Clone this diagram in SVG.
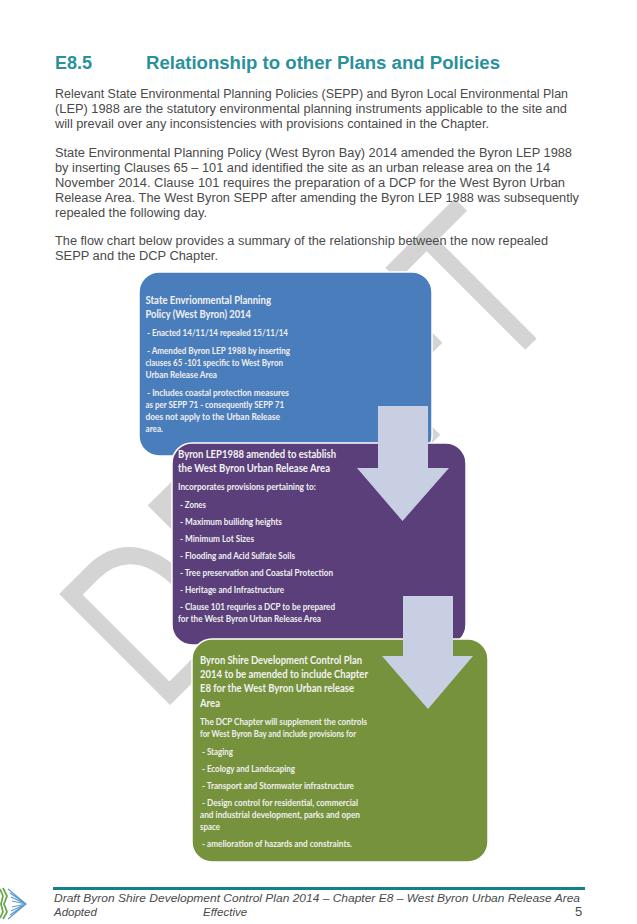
<svg xmlns="http://www.w3.org/2000/svg" width="637" height="924" viewBox="0 0 637 924">
<style>
.b{font-family:"Liberation Sans",Arial,sans-serif;font-size:12px;fill:#4a4a4a}
.h{font-family:"Liberation Sans",Arial,sans-serif;font-size:18px;font-weight:bold;fill:#2a919c}
.f{font-family:"Liberation Sans",Arial,sans-serif;font-size:11.500px;font-style:italic;fill:#4a4a4a}
.t{font-family:Lato,"Open Sans",sans-serif;font-size:11.500px;font-weight:bold;fill:#f2f2f2}
.s{font-family:Lato,"Open Sans",sans-serif;font-size:9.500px;font-weight:bold;fill:#f0f0f0}
.box{stroke:#fff;stroke-width:1.500}
.arrow{fill:#c8cfe2}
.wm{font-family:"Liberation Sans",Arial,sans-serif;font-size:228px;fill:#d4d4d4}
.ray{stroke:#5f9ccb;stroke-width:1.200;fill:none}
.chev{stroke:#6aa84f;stroke-width:1.800;fill:none}
</style>
<rect width="637" height="924" fill="#fff"/>
<text id="watermark" class="wm" transform="translate(160 715) rotate(-45) scale(.76 1)" x="0" y="0">DRAFT</text>
<g id="body">
<text class="h" x="55" y="69">E8.5</text>
<text class="h" x="146" y="69" textLength="354" lengthAdjust="spacingAndGlyphs">Relationship to other Plans and Policies</text>
<text class="b" x="55" y="98" textLength="513" lengthAdjust="spacingAndGlyphs">Relevant State Environmental Planning Policies (SEPP) and Byron Local Environmental Plan</text>
<text class="b" x="55" y="113" textLength="512" lengthAdjust="spacingAndGlyphs">(LEP) 1988 are the statutory environmental planning instruments applicable to the site and</text>
<text class="b" x="55" y="128" textLength="434" lengthAdjust="spacingAndGlyphs">will prevail over any inconsistencies with provisions contained in the Chapter.</text>
<text class="b" x="55" y="157" textLength="517" lengthAdjust="spacingAndGlyphs">State Environmental Planning Policy (West Byron Bay) 2014 amended the Byron LEP 1988</text>
<text class="b" x="55" y="172" textLength="495" lengthAdjust="spacingAndGlyphs">by inserting Clauses 65 – 101 and identified the site as an urban release area on the 14</text>
<text class="b" x="55" y="187" textLength="510" lengthAdjust="spacingAndGlyphs">November 2014.  Clause 101 requires the preparation of a DCP for the West Byron Urban</text>
<text class="b" x="55" y="202" textLength="524" lengthAdjust="spacingAndGlyphs">Release Area. The West Byron SEPP after amending the Byron LEP 1988 was subsequently</text>
<text class="b" x="55" y="217" textLength="152" lengthAdjust="spacingAndGlyphs">repealed the following day.</text>
<text class="b" x="55" y="245" textLength="493" lengthAdjust="spacingAndGlyphs">The flow chart below provides a summary of the relationship between the now repealed</text>
<text class="b" x="55" y="260" textLength="163" lengthAdjust="spacingAndGlyphs">SEPP and the DCP Chapter.</text>
</g>
<g id="node-sepp">
<rect class="box" x="139" y="272" width="293" height="184" rx="20" fill="#4a7dbb"/>
<text class="t" x="145.500" y="304" textLength="125.500" lengthAdjust="spacingAndGlyphs">State Envrionmental Planning</text>
<text class="t" x="145.500" y="318" textLength="105.500" lengthAdjust="spacingAndGlyphs">Policy (West Byron) 2014</text>
<text class="s" x="147" y="336" textLength="141" lengthAdjust="spacingAndGlyphs">- Enacted 14/11/14 repealed 15/11/14</text>
<text class="s" x="147" y="354" textLength="143" lengthAdjust="spacingAndGlyphs">- Amended Byron LEP 1988 by inserting</text>
<text class="s" x="145.500" y="366" textLength="137.500" lengthAdjust="spacingAndGlyphs">clauses 65 -101 specific to West Byron</text>
<text class="s" x="145.500" y="378" textLength="71.500" lengthAdjust="spacingAndGlyphs">Urban Release Area</text>
<text class="s" x="147" y="396" textLength="142" lengthAdjust="spacingAndGlyphs">- Includes  coastal protection measures</text>
<text class="s" x="145.500" y="408" textLength="138.500" lengthAdjust="spacingAndGlyphs">as per SEPP 71 - consequently SEPP 71</text>
<text class="s" x="145.500" y="420" textLength="134.500" lengthAdjust="spacingAndGlyphs">does not apply to the Urban  Release</text>
<text class="s" x="145.500" y="432" textLength="17.500" lengthAdjust="spacingAndGlyphs">area.</text>
</g>
<g id="node-lep">
<rect class="box" x="172" y="443" width="294" height="202" rx="20" fill="#5a3f7a"/>
<text class="t" x="178" y="458" textLength="158" lengthAdjust="spacingAndGlyphs">Byron LEP1988 amended to establish</text>
<text class="t" x="178" y="472" textLength="152" lengthAdjust="spacingAndGlyphs">the West Byron Urban Release Area</text>
<text class="s" x="178" y="490" textLength="138" lengthAdjust="spacingAndGlyphs">Incorporates provisions pertaining to:</text>
<text class="s" x="180" y="508" textLength="26" lengthAdjust="spacingAndGlyphs">- Zones</text>
<text class="s" x="180" y="525" textLength="102" lengthAdjust="spacingAndGlyphs">- Maximum builidng heights</text>
<text class="s" x="180" y="542" textLength="74" lengthAdjust="spacingAndGlyphs">- Minimum Lot Sizes</text>
<text class="s" x="180" y="559" textLength="115" lengthAdjust="spacingAndGlyphs">- Flooding and Acid Sulfate Soils</text>
<text class="s" x="180" y="576" textLength="153" lengthAdjust="spacingAndGlyphs">- Tree preservation and Coastal Protection</text>
<text class="s" x="180" y="593" textLength="104" lengthAdjust="spacingAndGlyphs">- Heritage and Infrastructure</text>
<text class="s" x="180" y="610" textLength="155" lengthAdjust="spacingAndGlyphs">- Clause 101 requries a DCP to be prepared</text>
<text class="s" x="178" y="622" textLength="143" lengthAdjust="spacingAndGlyphs">for the West Byron Urban Release Area</text>
</g>
<g id="node-dcp">
<rect class="box" x="192" y="639" width="296" height="223" rx="20" fill="#76923c"/>
<text class="t" x="200" y="664" textLength="162" lengthAdjust="spacingAndGlyphs">Byron Shire Development Control Plan</text>
<text class="t" x="200" y="678" textLength="168" lengthAdjust="spacingAndGlyphs">2014 to be amended to include Chapter</text>
<text class="t" x="200" y="692" textLength="154" lengthAdjust="spacingAndGlyphs">E8 for the West Byron Urban release</text>
<text class="t" x="200" y="707" textLength="20" lengthAdjust="spacingAndGlyphs">Area</text>
<text class="s" x="200" y="725" textLength="167" lengthAdjust="spacingAndGlyphs">The DCP Chapter will supplement the controls</text>
<text class="s" x="200" y="737" textLength="156" lengthAdjust="spacingAndGlyphs">for West Byron Bay and include provisions for</text>
<text class="s" x="202" y="755" textLength="31" lengthAdjust="spacingAndGlyphs">- Staging</text>
<text class="s" x="202" y="772" textLength="93" lengthAdjust="spacingAndGlyphs">- Ecology and Landscaping</text>
<text class="s" x="202" y="789" textLength="152" lengthAdjust="spacingAndGlyphs">- Transport and Stormwater infrastructure</text>
<text class="s" x="202" y="806" textLength="156" lengthAdjust="spacingAndGlyphs">- Design control for residential, commercial</text>
<text class="s" x="200" y="818" textLength="160" lengthAdjust="spacingAndGlyphs">and industrial development, parks and open</text>
<text class="s" x="200" y="830" textLength="20" lengthAdjust="spacingAndGlyphs">space</text>
<text class="s" x="202" y="847" textLength="150" lengthAdjust="spacingAndGlyphs">- amelioration of hazards and constraints.</text>
</g>
<g id="connectors">
<path class="arrow" d="M378 406H428V468H449L402.500 521L357 468H378Z"/>
<path class="arrow" d="M403 596H453V656H473L428 709L382 656H403Z"/>
</g>
<g id="footer">
<rect x="53" y="887" width="532" height="3" fill="#13808a"/>
<text class="f" x="54" y="902" textLength="526" lengthAdjust="spacingAndGlyphs">Draft Byron Shire Development Control Plan 2014 – Chapter E8 – West Byron Urban Release Area</text>
<text class="f" x="54" y="916">Adopted</text>
<text class="f" x="203" y="916">Effective</text>
<text class="b" x="575" y="916" style="font-size:13px">5</text>
<path class="chev" d="M0 889L3 896L1 904L3 912L0 918"/>
<path class="chev" d="M3 888L7 896L4 904L7 912L3 919"/>
<path class="ray" d="M8 889L26 904L8 919M10 893L26 904L10 915M11 897L26 904L11 911M12 901L26 904L12 907"/>
</g>
</svg>
